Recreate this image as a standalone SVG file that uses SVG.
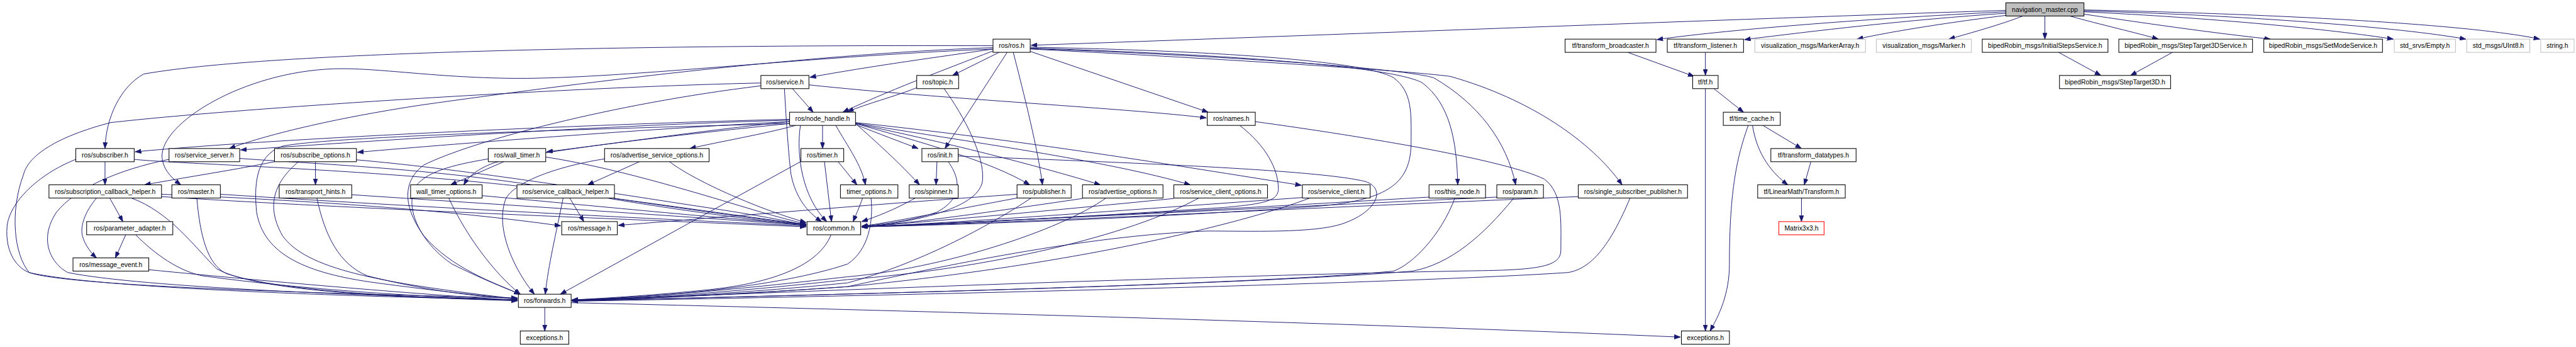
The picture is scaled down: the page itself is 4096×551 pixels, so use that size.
<svg xmlns="http://www.w3.org/2000/svg" width="4096" height="551" viewBox="0 0 4096 551">
<style>
.n rect{fill:#fff;stroke:#000;stroke-width:1.4}
.n.g rect{stroke:#bfbfbf}
.n.r rect{stroke:#ff0000}
.n.m rect{fill:#bfbfbf}
.n text{font-family:"Liberation Sans",Arial,sans-serif;font-size:14px;text-anchor:middle;fill:#000}
#edges path{fill:none;stroke:#191970;stroke-width:1.3;marker-end:url(#a)}
</style>
<defs>
<marker id="a" markerUnits="userSpaceOnUse" markerWidth="14" markerHeight="10" refX="13" refY="4.7" orient="auto" viewBox="0 0 14 10">
<path d="M0,0 L13,4.7 L0,9.4 Z" fill="#191970" stroke="#191970" stroke-width="1"/>
</marker>
</defs>
<rect width="4096" height="551" fill="#fff"/>
<g transform="scale(0.748675)">
<g id="edges">
<path d="M4260,22 C3700,40 2800,75 2190,96"/>
<path d="M4260,25 C3950,40 3650,65 3519,84"/>
<path d="M4261,28 C4050,42 3850,66 3705,84"/>
<path d="M4265,32 C4150,46 4020,66 3944,83"/>
<path d="M4296,34 C4250,52 4185,70 4139,83"/>
<path d="M4343,34 L4343,83"/>
<path d="M4396,34 C4460,52 4540,70 4584,83"/>
<path d="M4426,30 C4560,50 4700,70 4822,83"/>
<path d="M4426,25 C4700,38 4950,62 5083,83"/>
<path d="M4426,23 C4760,32 5100,58 5237,83"/>
<path d="M4426,21 C4850,30 5250,52 5394,83"/>
<path d="M3457,111 L3598,162"/>
<path d="M3622,111 L3622,160"/>
<path d="M4372,111 L4462,160"/>
<path d="M4614,111 L4525,160"/>
<path d="M3640,188 L3703,238"/>
<path d="M3622,188 L3622,702"/>
<path d="M3744,266 L3826,315"/>
<path d="M3713,266 C3690,330 3673,400 3673,560 C3673,625 3650,670 3632,702"/>
<path d="M3722,266 C3732,330 3765,368 3797,392"/>
<path d="M3846,343 L3832,392"/>
<path d="M3826,420 L3826,470"/>
<path d="M2122,111 L2023,160"/>
<path d="M2109,108 C2000,150 1880,195 1790,238"/>
<path d="M2139,111 L2007,315"/>
<path d="M2188,109 L2566,238"/>
<path d="M2109,104 C2000,120 1850,140 1720,164"/>
<path d="M2109,97 C1500,95 600,105 305,157 C255,185 225,250 223,315"/>
<path d="M2109,101 C1700,115 1200,180 900,222 C700,252 560,288 487,315"/>
<path d="M2109,104 C1700,120 1300,170 1076,166 C900,163 780,140 690,147 C500,160 330,270 345,340 C350,365 368,380 384,392"/>
<path d="M2152,111 C2175,200 2205,320 2214,392"/>
<path d="M2188,102 C2600,115 2950,140 3020,175 C3080,220 3094,300 3096,392"/>
<path d="M2188,103 C2600,118 2980,145 3045,165 C3140,220 3200,300 3219,392"/>
<path d="M2188,104 C2600,125 2990,150 3080,162 C3250,210 3380,300 3445,392"/>
<path d="M2188,100 C2600,108 2900,130 2960,165 C3000,195 2997,240 2997,300 C2997,390 2950,430 2760,440 C2400,465 2000,478 1830,481"/>
<path d="M1947,186 C1900,205 1840,220 1800,237"/>
<path d="M2005,188 C2050,250 2090,330 2087,380 C2084,440 1950,470 1830,482"/>
<path d="M1990,343 L1988,392"/>
<path d="M2014,343 C2040,380 2045,420 1990,450 C1930,470 1870,476 1830,480"/>
<path d="M2035,331 C2400,345 2800,360 2900,385 C2945,400 2925,450 2850,475 C2790,495 2650,490 2563,490 C2300,500 2000,565 1800,608 C1600,622 1400,632 1215,637"/>
<path d="M2666,258 C2900,290 3200,340 3280,380 C3320,410 3315,470 3315,530 C3315,562 3280,572 3150,574 C2900,578 2500,590 2200,600 C1800,614 1400,630 1215,638"/>
<path d="M2633,266 C2690,310 2715,360 2715,400 C2715,425 2690,432 2600,440 C2300,460 2000,476 1830,481"/>
<path d="M1683,188 L1727,238"/>
<path d="M1718,180 C2000,210 2400,230 2562,250"/>
<path d="M1666,188 C1670,260 1675,330 1680,370 C1690,420 1715,450 1745,470"/>
<path d="M1616,176 C1200,185 500,230 235,260 C120,290 60,330 50,370 C20,450 30,540 62,578 C150,610 800,625 1099,632"/>
<path d="M1616,182 C1300,220 1000,300 900,350 C860,380 850,430 900,500 C960,570 1050,600 1105,624"/>
<path d="M1677,253 C1300,262 600,292 287,322"/>
<path d="M1677,255 C1300,265 800,298 511,318"/>
<path d="M1677,258 C1400,272 1000,302 759,323"/>
<path d="M1677,258 C1500,276 1300,305 1161,322"/>
<path d="M1690,266 C1620,285 1530,300 1465,315"/>
<path d="M1747,266 L1747,315"/>
<path d="M1817,264 C1870,285 1910,300 1950,315"/>
<path d="M1817,262 C1860,300 1910,345 1953,392"/>
<path d="M1817,262 C1950,300 2100,340 2187,392"/>
<path d="M1817,262 C2000,300 2200,350 2337,392"/>
<path d="M1817,261 C2050,300 2350,340 2528,392"/>
<path d="M1817,260 C2200,300 2550,360 2764,393"/>
<path d="M1775,266 C1800,310 1830,350 1838,392"/>
<path d="M1677,262 C1400,290 1150,320 1050,345 C1010,360 995,375 985,392"/>
<path d="M1700,266 C1690,330 1705,420 1756,470"/>
<path d="M1677,262 C1200,275 700,290 600,310 C540,330 540,400 545,450 C560,540 650,580 800,600 C950,620 1050,630 1099,634"/>
<path d="M1700,343 L1190,624"/>
<path d="M1751,343 L1766,470"/>
<path d="M1780,343 L1820,392"/>
<path d="M223,343 L223,392"/>
<path d="M285,338 C400,350 900,360 1300,420 C1500,450 1650,470 1712,476"/>
<path d="M161,338 C80,370 20,430 15,480 C10,540 40,570 62,578 C200,610 700,628 1099,636"/>
<path d="M509,336 C700,350 1000,360 1300,422 C1500,455 1650,472 1712,477"/>
<path d="M359,338 C250,360 160,400 120,450 C80,510 110,560 144,578 C300,610 800,628 1099,636"/>
<path d="M670,343 L670,392"/>
<path d="M583,343 C500,360 400,375 307,392"/>
<path d="M757,339 C1000,360 1300,410 1500,440 C1600,455 1680,470 1712,478"/>
<path d="M634,343 C590,380 560,430 600,500 C650,570 800,600 1099,634"/>
<path d="M233,420 L261,470"/>
<path d="M205,420 C180,450 170,480 175,500 C180,520 195,538 205,547"/>
<path d="M343,417 C700,440 1200,460 1712,481"/>
<path d="M279,420 C360,450 410,520 460,570 C550,620 850,630 1099,638"/>
<path d="M343,412 C650,425 950,445 1191,479"/>
<path d="M468,412 C900,440 1400,465 1712,479"/>
<path d="M418,420 C425,500 440,560 480,580 C600,620 900,632 1099,637"/>
<path d="M747,413 C1000,430 1400,455 1712,478"/>
<path d="M673,420 C690,500 720,560 780,585 C900,615 1000,628 1099,634"/>
<path d="M267,498 L245,547"/>
<path d="M288,498 C330,540 380,575 430,585 C650,615 900,630 1099,636"/>
<path d="M316,572 C600,600 900,625 1099,637"/>
<path d="M1070,343 L957,392"/>
<path d="M1159,333 C1300,355 1450,400 1600,445 C1650,460 1690,470 1712,475"/>
<path d="M1037,337 C960,350 900,365 880,400 C860,450 900,520 960,560 C1020,590 1070,610 1105,624"/>
<path d="M1358,343 L1248,392"/>
<path d="M1422,343 C1470,380 1600,440 1712,472"/>
<path d="M1284,337 C1200,350 1100,380 1075,420 C1050,480 1090,570 1135,624"/>
<path d="M1024,415 C1300,440 1550,465 1712,476"/>
<path d="M953,420 C990,500 1050,580 1105,624"/>
<path d="M1210,420 L1240,470"/>
<path d="M1196,420 C1180,500 1165,560 1158,624"/>
<path d="M1305,421 C1450,440 1600,462 1712,476"/>
<path d="M2160,412 C1900,430 1600,455 1313,478"/>
<path d="M2160,420 C2000,450 1900,470 1830,480"/>
<path d="M2190,420 C2100,480 1950,560 1800,600 C1600,620 1400,632 1215,637"/>
<path d="M2299,421 C2100,450 1950,472 1830,481"/>
<path d="M2349,420 C2250,490 2000,570 1800,587 C1600,610 1400,630 1215,637"/>
<path d="M2493,421 C2200,450 1950,472 1830,481"/>
<path d="M2546,420 C2400,500 2100,570 1800,593 C1600,615 1400,632 1215,637"/>
<path d="M2766,419 C2400,445 2000,475 1830,481"/>
<path d="M2782,420 C2650,470 2300,560 1800,608 C1600,622 1400,633 1215,638"/>
<path d="M3035,418 C2500,450 2000,475 1830,481"/>
<path d="M3090,420 C3060,500 3000,560 2960,575 C2700,600 2000,620 1215,638"/>
<path d="M3179,418 C2600,445 2000,475 1830,481"/>
<path d="M3215,420 C3150,500 3080,560 3000,575 C2700,600 2000,620 1215,638"/>
<path d="M3352,417 C2800,440 2100,475 1830,481"/>
<path d="M3462,420 C3420,520 3380,570 3330,578 C3000,600 2000,625 1215,639"/>
<path d="M1944,420 C1900,445 1860,460 1830,470"/>
<path d="M1832,420 C1825,440 1818,455 1812,470"/>
<path d="M1850,420 C1855,470 1845,530 1800,560 C1650,610 1400,630 1215,636"/>
<path d="M1765,498 C1740,560 1650,600 1500,615 C1400,625 1300,632 1215,636"/>
<path d="M1157,652 L1157,702"/>
<path d="M1213,642 C2000,660 3000,690 3569,715"/>
</g>
<g id="n_nav" class="n m"><rect x="4260" y="6" width="166" height="28"/><text x="4343" y="25">navigation_master.cpp</text></g>
<g id="n_ros" class="n"><rect x="2109" y="83" width="79" height="28"/><text x="2148.5" y="102">ros/ros.h</text></g>
<g id="n_tb" class="n"><rect x="3324" y="83" width="193" height="28"/><text x="3420.5" y="102">tf/transform_broadcaster.h</text></g>
<g id="n_tl" class="n"><rect x="3541" y="83" width="162" height="28"/><text x="3622" y="102">tf/transform_listener.h</text></g>
<g id="n_ma" class="n g"><rect x="3727" y="83" width="235" height="28"/><text x="3844.5" y="102">visualization_msgs/MarkerArray.h</text></g>
<g id="n_mk" class="n g"><rect x="3985" y="83" width="202" height="28"/><text x="4086" y="102">visualization_msgs/Marker.h</text></g>
<g id="n_is" class="n"><rect x="4210" y="83" width="267" height="28"/><text x="4343.5" y="102">bipedRobin_msgs/InitialStepsService.h</text></g>
<g id="n_st3s" class="n"><rect x="4500" y="83" width="284" height="28"/><text x="4642" y="102">bipedRobin_msgs/StepTarget3DService.h</text></g>
<g id="n_sm" class="n"><rect x="4808" y="83" width="252" height="28"/><text x="4934" y="102">bipedRobin_msgs/SetModeService.h</text></g>
<g id="n_em" class="n g"><rect x="5085" y="83" width="130" height="28"/><text x="5150" y="102">std_srvs/Empty.h</text></g>
<g id="n_u8" class="n g"><rect x="5239" y="83" width="134" height="28"/><text x="5306" y="102">std_msgs/UInt8.h</text></g>
<g id="n_str" class="n g"><rect x="5396" y="83" width="71" height="28"/><text x="5431.5" y="102">string.h</text></g>
<g id="n_srv" class="n"><rect x="1616" y="160" width="102" height="28"/><text x="1667" y="179">ros/service.h</text></g>
<g id="n_top" class="n"><rect x="1947" y="160" width="89" height="28"/><text x="1991.5" y="179">ros/topic.h</text></g>
<g id="n_tf" class="n"><rect x="3595" y="160" width="54" height="28"/><text x="3622" y="179">tf/tf.h</text></g>
<g id="n_st3" class="n"><rect x="4374" y="160" width="236" height="28"/><text x="4492" y="179">bipedRobin_msgs/StepTarget3D.h</text></g>
<g id="n_nh" class="n"><rect x="1677" y="238" width="140" height="28"/><text x="1747" y="257">ros/node_handle.h</text></g>
<g id="n_nam" class="n"><rect x="2564" y="238" width="102" height="28"/><text x="2615" y="257">ros/names.h</text></g>
<g id="n_tc" class="n"><rect x="3660" y="238" width="121" height="28"/><text x="3720.5" y="257">tf/time_cache.h</text></g>
<g id="n_sub" class="n"><rect x="161" y="315" width="124" height="28"/><text x="223" y="334">ros/subscriber.h</text></g>
<g id="n_ss" class="n"><rect x="359" y="315" width="150" height="28"/><text x="434" y="334">ros/service_server.h</text></g>
<g id="n_so" class="n"><rect x="583" y="315" width="174" height="28"/><text x="670" y="334">ros/subscribe_options.h</text></g>
<g id="n_wt" class="n"><rect x="1037" y="315" width="122" height="28"/><text x="1098" y="334">ros/wall_timer.h</text></g>
<g id="n_aso" class="n"><rect x="1284" y="315" width="222" height="28"/><text x="1395" y="334">ros/advertise_service_options.h</text></g>
<g id="n_tim" class="n"><rect x="1701" y="315" width="91" height="28"/><text x="1746.5" y="334">ros/timer.h</text></g>
<g id="n_ini" class="n"><rect x="1958" y="315" width="77" height="28"/><text x="1996.5" y="334">ros/init.h</text></g>
<g id="n_td" class="n"><rect x="3761" y="315" width="181" height="28"/><text x="3851.5" y="334">tf/transform_datatypes.h</text></g>
<g id="n_sch" class="n"><rect x="104" y="392" width="239" height="28"/><text x="223.5" y="411">ros/subscription_callback_helper.h</text></g>
<g id="n_mas" class="n"><rect x="365" y="392" width="103" height="28"/><text x="416.5" y="411">ros/master.h</text></g>
<g id="n_th" class="n"><rect x="593" y="392" width="154" height="28"/><text x="670" y="411">ros/transport_hints.h</text></g>
<g id="n_wto" class="n"><rect x="872" y="392" width="152" height="28"/><text x="948" y="411">wall_timer_options.h</text></g>
<g id="n_svch" class="n"><rect x="1098" y="392" width="207" height="28"/><text x="1201.5" y="411">ros/service_callback_helper.h</text></g>
<g id="n_to" class="n"><rect x="1785" y="392" width="122" height="28"/><text x="1846" y="411">timer_options.h</text></g>
<g id="n_sp" class="n"><rect x="1931" y="392" width="104" height="28"/><text x="1983" y="411">ros/spinner.h</text></g>
<g id="n_pub" class="n"><rect x="2160" y="392" width="115" height="28"/><text x="2217.5" y="411">ros/publisher.h</text></g>
<g id="n_ao" class="n"><rect x="2299" y="392" width="171" height="28"/><text x="2384.5" y="411">ros/advertise_options.h</text></g>
<g id="n_sco" class="n"><rect x="2493" y="392" width="199" height="28"/><text x="2592.5" y="411">ros/service_client_options.h</text></g>
<g id="n_sc" class="n"><rect x="2766" y="392" width="144" height="28"/><text x="2838" y="411">ros/service_client.h</text></g>
<g id="n_tn" class="n"><rect x="3035" y="392" width="120" height="28"/><text x="3095" y="411">ros/this_node.h</text></g>
<g id="n_par" class="n"><rect x="3179" y="392" width="99" height="28"/><text x="3228.5" y="411">ros/param.h</text></g>
<g id="n_ssp" class="n"><rect x="3352" y="392" width="232" height="28"/><text x="3468" y="411">ros/single_subscriber_publisher.h</text></g>
<g id="n_tr" class="n"><rect x="3733" y="392" width="186" height="28"/><text x="3826" y="411">tf/LinearMath/Transform.h</text></g>
<g id="n_pa" class="n"><rect x="184" y="470" width="183" height="28"/><text x="275.5" y="489">ros/parameter_adapter.h</text></g>
<g id="n_msg" class="n"><rect x="1193" y="470" width="118" height="28"/><text x="1252" y="489">ros/message.h</text></g>
<g id="n_com" class="n"><rect x="1714" y="470" width="114" height="28"/><text x="1771" y="489">ros/common.h</text></g>
<g id="n_m33" class="n r"><rect x="3778" y="470" width="96" height="28"/><text x="3826" y="489">Matrix3x3.h</text></g>
<g id="n_me" class="n"><rect x="155" y="547" width="161" height="28"/><text x="235.5" y="566">ros/message_event.h</text></g>
<g id="n_fwd" class="n"><rect x="1101" y="624" width="112" height="28"/><text x="1157" y="643">ros/forwards.h</text></g>
<g id="n_ex" class="n"><rect x="1105" y="702" width="103" height="28"/><text x="1156.5" y="721">exceptions.h</text></g>
<g id="n_ext" class="n"><rect x="3571" y="702" width="102" height="28"/><text x="3622" y="721">exceptions.h</text></g>
</g>
</svg>
